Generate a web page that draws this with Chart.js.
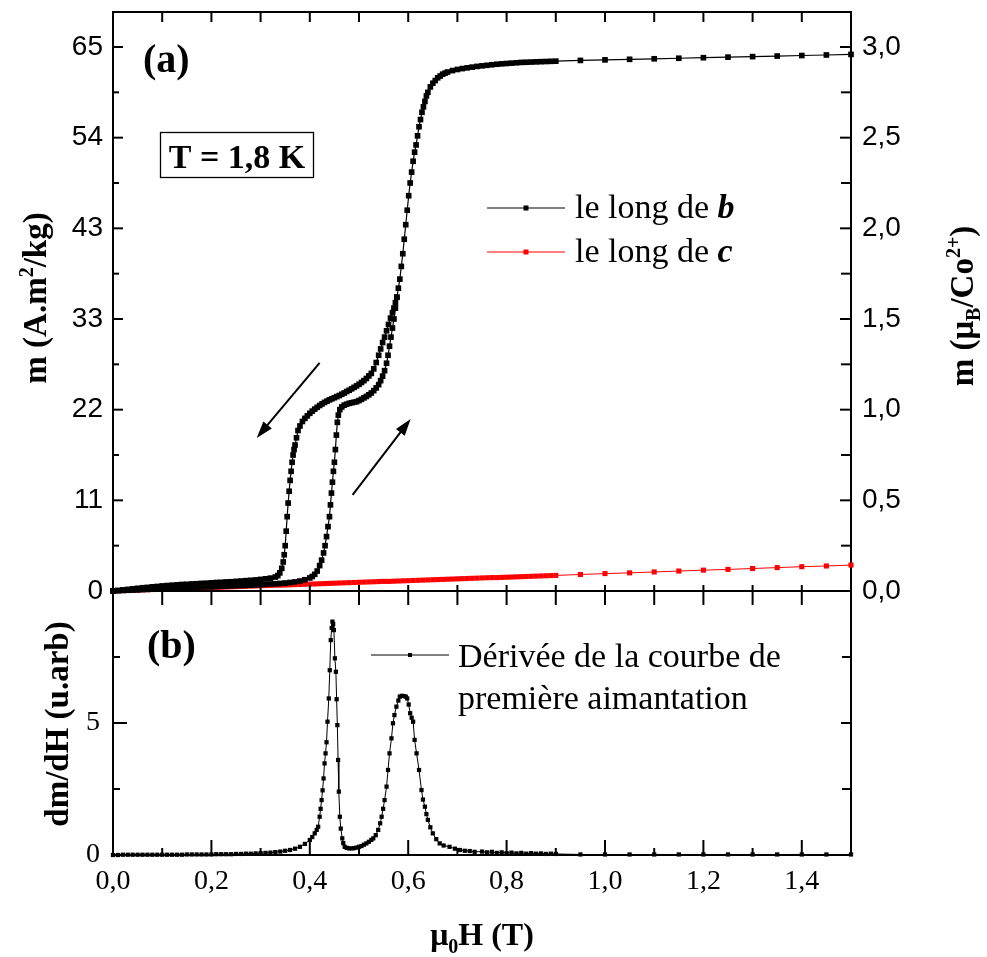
<!DOCTYPE html>
<html><head><meta charset="utf-8">
<script src="https://cdn.jsdelivr.net/npm/chart.js@4/dist/chart.umd.min.js"></script>
<style>
html,body{margin:0;padding:0;background:#fff;}
#wrap{position:relative;width:987px;height:957px;overflow:hidden;background:#fff}
canvas{position:absolute;left:0}
#c1{top:0}
#c2{top:560px}
</style></head><body>
<div id="wrap"><canvas id="c1" width="987" height="620"></canvas><canvas id="c2" width="987" height="397"></canvas></div>
<script>
// ---------------- DATA ----------------
// Field mu0H (T) and magnetisation (muB/Co2+) along b : first magnetisation (increasing field)
const H_B_UP = [0.00,0.01,0.02,0.03,0.04,0.05,0.06,0.07,0.08,0.09,
0.10,0.11,0.12,0.13,0.14,0.15,0.16,0.17,0.18,0.19,
0.20,0.21,0.22,0.23,0.24,0.25,0.26,0.27,0.28,0.29,
0.30,0.31,0.32,0.33,0.34,0.35,0.36,0.37,0.38,0.39,0.40,
0.405,0.41,0.415,0.42,0.424,0.428,0.431,0.434,0.437,0.44,
0.442,0.444,0.446,0.448,0.45,0.452,0.454,0.456,0.458,0.461,
0.465,0.47,0.475,0.48,0.485,0.49,0.495,0.50,0.505,0.51,
0.515,0.52,0.525,0.53,0.535,0.54,0.544,0.548,0.552,0.556,
0.559,0.562,0.565,0.568,0.571,0.574,0.577,0.580,0.583,0.586,
0.589,0.592,0.595,0.598,0.601,0.604,0.607,0.610,0.613,0.616,
0.619,0.622,0.625,0.628,0.631,0.634,0.637,0.64,0.645,0.65,
0.655,0.66,0.665,0.67,0.675,0.68,0.69,0.70,0.71,0.72,
0.73,0.74,0.75,0.76,0.77,0.78,0.79,0.80,0.81,0.82,
0.83,0.84,0.85,0.86,0.87,0.88,0.89,0.90,
0.95,1.00,1.05,1.10,1.15,1.20,1.25,1.30,1.35,1.40,1.45,1.50];
const M_B_UP = [0.000,0.002,0.003,0.004,0.005,0.006,0.008,0.009,0.010,0.011,
0.012,0.013,0.015,0.016,0.017,0.018,0.019,0.020,0.022,0.023,
0.024,0.025,0.026,0.027,0.028,0.029,0.030,0.031,0.032,0.034,
0.036,0.037,0.039,0.040,0.042,0.044,0.047,0.050,0.055,0.062,0.072,
0.080,0.092,0.11,0.14,0.17,0.21,0.25,0.30,0.355,0.41,
0.475,0.54,0.60,0.66,0.71,0.78,0.86,0.93,0.97,1.00,
1.015,1.025,1.03,1.035,1.038,1.041,1.044,1.05,1.057,1.065,
1.073,1.082,1.092,1.105,1.12,1.138,1.16,1.185,1.215,1.256,
1.30,1.35,1.40,1.45,1.50,1.56,1.62,1.67,1.72,1.79,
1.86,1.94,2.02,2.10,2.18,2.25,2.31,2.37,2.42,2.46,
2.51,2.56,2.60,2.64,2.67,2.70,2.73,2.75,2.78,2.80,
2.815,2.83,2.84,2.85,2.856,2.862,2.87,2.876,2.881,2.885,
2.889,2.893,2.896,2.899,2.902,2.905,2.907,2.909,2.911,2.913,
2.915,2.916,2.917,2.918,2.919,2.920,2.921,2.922,
2.926,2.929,2.932,2.935,2.938,2.941,2.944,2.947,2.950,2.953,2.956,2.959];
// along b : decreasing field branch (below the point where it joins the first branch)
const H_B_DOWN = [0.00,0.01,0.02,0.03,0.04,0.05,0.06,0.07,0.08,0.09,
0.10,0.11,0.12,0.13,0.14,0.15,0.16,0.17,0.18,0.19,
0.20,0.21,0.22,0.23,0.24,0.25,0.26,0.27,0.28,0.29,
0.30,0.31,0.32,0.33,
0.335,0.339,0.343,0.346,0.348,0.350,0.352,0.354,0.356,0.358,
0.360,0.362,0.364,0.366,0.368,0.370,0.373,0.376,0.38,0.385,
0.39,0.395,0.40,0.405,0.41,0.415,0.42,0.425,0.43,0.435,
0.44,0.445,0.45,0.455,0.46,0.465,0.47,0.475,0.48,0.485,
0.49,0.495,0.50,0.505,0.51,0.515,0.52,0.525,0.53,0.535,
0.54,0.544,0.548,0.552,0.556,0.56,0.564,0.568,0.571,0.574,0.577];
const M_B_DOWN = [0.000,0.003,0.006,0.009,0.012,0.015,0.018,0.020,0.023,0.025,
0.028,0.030,0.032,0.034,0.036,0.037,0.039,0.040,0.042,0.043,
0.045,0.047,0.048,0.050,0.051,0.053,0.055,0.057,0.059,0.061,
0.064,0.067,0.071,0.077,
0.085,0.10,0.125,0.16,0.20,0.25,0.33,0.41,0.485,0.55,
0.61,0.66,0.71,0.75,0.78,0.805,0.845,0.885,0.91,0.935,
0.952,0.966,0.98,0.992,1.003,1.013,1.023,1.032,1.04,1.047,
1.054,1.06,1.066,1.072,1.078,1.085,1.092,1.10,1.107,1.115,
1.123,1.131,1.14,1.15,1.16,1.172,1.186,1.20,1.225,1.26,
1.30,1.335,1.37,1.40,1.435,1.47,1.505,1.535,1.56,1.59,1.62];
// along c
const H_C = [0.00,0.01,0.02,0.03,0.04,0.05,0.06,0.07,0.08,0.09,
0.10,0.11,0.12,0.13,0.14,0.15,0.16,0.17,0.18,0.19,
0.20,0.21,0.22,0.23,0.24,0.25,0.26,0.27,0.28,0.29,
0.30,0.31,0.32,0.33,0.34,0.35,0.36,0.37,0.38,0.39,
0.40,0.41,0.42,0.43,0.44,0.45,0.46,0.47,0.48,0.49,
0.50,0.51,0.52,0.53,0.54,0.55,0.56,0.57,0.58,0.59,
0.60,0.61,0.62,0.63,0.64,0.65,0.66,0.67,0.68,0.69,
0.70,0.71,0.72,0.73,0.74,0.75,0.76,0.77,0.78,0.79,
0.80,0.81,0.82,0.83,0.84,0.85,0.86,0.87,0.88,0.89,0.90,
0.95,1.00,1.05,1.10,1.15,1.20,1.25,1.30,1.35,1.40,1.45,1.50];
const M_C = [0.000,0.001,0.002,0.003,0.004,0.005,0.006,0.007,0.008,0.009,
0.010,0.011,0.011,0.012,0.013,0.014,0.015,0.016,0.017,0.018,
0.019,0.020,0.021,0.022,0.023,0.024,0.025,0.026,0.027,0.028,
0.029,0.030,0.031,0.032,0.032,0.033,0.034,0.035,0.036,0.037,
0.038,0.039,0.040,0.041,0.042,0.043,0.044,0.045,0.046,0.047,
0.048,0.049,0.050,0.051,0.052,0.053,0.053,0.054,0.055,0.056,
0.057,0.058,0.059,0.060,0.061,0.062,0.063,0.064,0.065,0.066,
0.067,0.068,0.069,0.070,0.071,0.072,0.073,0.074,0.074,0.075,
0.076,0.077,0.078,0.079,0.080,0.081,0.082,0.083,0.084,0.085,0.086,
0.091,0.096,0.100,0.105,0.110,0.115,0.119,0.124,0.129,0.134,0.138,0.143];
// derivative dm/dH of first magnetisation curve (arb. units)
const H_D = [0.00,0.01,0.02,0.03,0.04,0.05,0.06,0.07,0.08,0.09,
0.10,0.11,0.12,0.13,0.14,0.15,0.16,0.17,0.18,0.19,
0.20,0.21,0.22,0.23,0.24,0.25,0.26,0.27,0.28,0.29,
0.30,0.31,0.32,0.33,0.34,0.35,0.36,0.37,0.38,0.39,0.40,
0.405,0.41,0.414,0.417,0.42,0.422,0.424,0.426,0.428,0.430,
0.432,0.434,0.436,0.4386,0.4406,0.4426,0.4445,0.446,0.4475,0.449,
0.451,0.453,0.4545,0.456,0.4575,0.459,0.461,0.463,0.466,0.468,
0.471,0.475,0.48,0.485,0.49,0.495,0.50,0.505,0.51,0.515,
0.52,0.525,0.529,0.534,0.539,0.543,0.546,0.549,0.552,0.556,
0.559,0.562,0.566,0.569,0.572,0.576,0.580,0.583,0.587,0.591,
0.595,0.598,0.601,0.604,0.607,0.61,0.613,0.617,0.622,0.627,
0.630,0.634,0.637,0.64,0.645,0.65,0.657,0.664,0.672,0.684,
0.695,0.705,0.715,0.725,0.735,0.75,0.76,0.77,0.78,0.79,
0.80,0.81,0.82,0.83,0.84,0.85,0.86,0.87,0.88,0.89,0.90,
0.95,1.00,1.05,1.10,1.15,1.20,1.25,1.30,1.35,1.40,1.45,1.50];
const V_D = [0.00,0.00,0.01,0.01,0.01,0.01,0.01,0.01,0.01,0.01,
0.01,0.01,0.01,0.01,0.01,0.02,0.02,0.02,0.02,0.02,
0.02,0.03,0.03,0.03,0.03,0.04,0.04,0.05,0.05,0.06,
0.07,0.08,0.09,0.11,0.13,0.16,0.19,0.24,0.31,0.42,0.57,
0.68,0.82,0.95,1.07,1.45,1.75,2.08,2.45,2.9,3.47,
3.85,4.27,5.05,5.93,7.0,8.14,8.6,8.84,8.75,8.52,
7.45,6.94,5.9,4.92,3.6,2.40,1.45,1.0,0.63,0.45,
0.31,0.27,0.25,0.25,0.26,0.28,0.31,0.34,0.39,0.44,
0.5,0.57,0.63,0.75,0.95,1.2,1.45,1.75,2.08,2.59,
3.22,3.85,4.42,4.99,5.3,5.62,5.85,6.0,6.03,6.02,
6.0,5.93,5.7,5.37,5.2,5.05,4.36,3.85,3.22,2.46,
2.1,1.83,1.55,1.33,1.05,0.82,0.6,0.44,0.36,0.31,
0.24,0.19,0.16,0.15,0.12,0.13,0.1,0.12,0.08,0.1,
0.07,0.09,0.06,0.08,0.05,0.07,0.05,0.06,0.04,0.05,0.04,
0.02,0.02,0.02,0.02,0.02,0.02,0.02,0.02,0.02,0.02,0.02,0.02];

// tick values and labels
const X_TICKS = [0,0.2,0.4,0.6,0.8,1.0,1.2,1.4];
const X_LABELS = ["0,0","0,2","0,4","0,6","0,8","1,0","1,2","1,4"];
const MB_TICKS = [0,0.5,1.0,1.5,2.0,2.5,3.0];
const MB_LABELS = ["0,0","0,5","1,0","1,5","2,0","2,5","3,0"];
const MKG_LABELS = ["0","11","22","33","43","54","65"];
const D_TICKS = [0,5];
const D_LABELS = ["0","5"];
// annotation arrows (data coordinates: [H, m])
const ARROWS = [{from:[0.420,1.258], to:[0.292,0.844]}, {from:[0.487,0.530], to:[0.605,0.949]}];

// ---------------- RENDER ----------------
const SERIF = '"Liberation Serif","Times New Roman",serif';
const SANS = '"Liberation Sans",Arial,sans-serif';
const pts = (hs, vs) => hs.map((h, i) => ({x: h, y: vs[i]}));

function richText(ctx, segs, x, y, align) {
  let w = 0;
  segs.forEach(s => { ctx.font = s.f; s.w = ctx.measureText(s.t).width; w += s.w; });
  let cx = align === 'center' ? x - w / 2 : x;
  segs.forEach(s => { ctx.font = s.f; ctx.fillText(s.t, cx, y + (s.dy || 0)); cx += s.w; });
  return w;
}
function tickLine(ctx, side, a, p, len) {
  ctx.beginPath();
  if (side === 'left') { ctx.moveTo(a.left, p); ctx.lineTo(a.left + len, p); }
  else if (side === 'right') { ctx.moveTo(a.right, p); ctx.lineTo(a.right - len, p); }
  else if (side === 'top') { ctx.moveTo(p, a.top); ctx.lineTo(p, a.top + len); }
  else { ctx.moveTo(p, a.bottom); ctx.lineTo(p, a.bottom - len); }
  ctx.stroke();
}
function arrow(ctx, x1, y1, x2, y2) {
  const ang = Math.atan2(y2 - y1, x2 - x1), hl = 17, hw = 5.5;
  const bx = x2 - hl * Math.cos(ang), by = y2 - hl * Math.sin(ang);
  ctx.beginPath(); ctx.moveTo(x1, y1); ctx.lineTo(bx + 2 * Math.cos(ang), by + 2 * Math.sin(ang)); ctx.stroke();
  ctx.beginPath(); ctx.moveTo(x2, y2);
  ctx.lineTo(bx + hw * Math.sin(ang), by - hw * Math.cos(ang));
  ctx.lineTo(bx - hw * Math.sin(ang), by + hw * Math.cos(ang));
  ctx.closePath(); ctx.fill();
}
const minorsOf = (majors, half, max) => majors.map(v => v + half).filter(v => v < max - 1e-6);
const xMinor = minorsOf(X_TICKS, 0.1, 1.5);
const xAll = X_TICKS.concat(xMinor).filter(v => v > 1e-6);

function fixSize(s, w, h) {
  if (w !== null) s.width = w;
  if (h !== null) s.height = h;
  s.paddingTop = 0; s.paddingBottom = 0; s.paddingLeft = 0; s.paddingRight = 0;
}
function frameAxis(pos, extra) {
  return Object.assign({
    type: 'linear', position: pos,
    grid: {display: false, drawTicks: false},
    border: {display: true, width: 2, color: '#000'},
    ticks: {display: false}
  }, extra || {});
}

const topDecor = {
  id: 'topDecor',
  afterDraw(chart) {
    const ctx = chart.ctx, a = chart.chartArea, xs = chart.scales.x, ys = chart.scales.y;
    ctx.save();
    ctx.strokeStyle = '#000'; ctx.fillStyle = '#000'; ctx.lineWidth = 2;
    xAll.forEach(v => { const p = xs.getPixelForValue(v); tickLine(ctx, 'top', a, p, 10); tickLine(ctx, 'bottom', a, p, 6); });
    MB_TICKS.forEach(v => { const p = ys.getPixelForValue(v); tickLine(ctx, 'left', a, p, 10); tickLine(ctx, 'right', a, p, 11); });
    minorsOf(MB_TICKS, 0.25, ys.max).forEach(v => { const p = ys.getPixelForValue(v); tickLine(ctx, 'left', a, p, 6); tickLine(ctx, 'right', a, p, 10); });
    // arrows
    ctx.lineWidth = 2;
    ARROWS.forEach(ar => arrow(ctx, xs.getPixelForValue(ar.from[0]), ys.getPixelForValue(ar.from[1]), xs.getPixelForValue(ar.to[0]), ys.getPixelForValue(ar.to[1])));
    // panel label
    ctx.textBaseline = 'alphabetic'; ctx.textAlign = 'left';
    ctx.font = 'bold 40px ' + SERIF; ctx.fillText('(a)', 143, 72);
    // temperature box
    ctx.font = 'bold 34px ' + SERIF;
    const tw = ctx.measureText('T = 1,8 K').width;
    ctx.fillText('T = 1,8 K', 237 - tw / 2, 168);
    ctx.lineWidth = 1.3; ctx.strokeRect(160.5, 132.5, 153, 45);
    // legend
    const legend = [{y: 208, c: '#000', it: 'b'}, {y: 252, c: '#ff0000', it: 'c'}];
    legend.forEach(l => {
      ctx.strokeStyle = l.c; ctx.fillStyle = l.c; ctx.lineWidth = 1.2;
      ctx.beginPath(); ctx.moveTo(487, l.y); ctx.lineTo(565, l.y); ctx.stroke();
      ctx.fillRect(523.5, l.y - 2.5, 5, 5);
      ctx.fillStyle = '#000';
      richText(ctx, [{t: 'le long de ', f: '34px ' + SERIF}, {t: l.it, f: 'bold italic 34px ' + SERIF}], 575, l.y + 10, 'left');
    });
    // axis titles
    ctx.fillStyle = '#000';
    ctx.save(); ctx.translate(46, 298); ctx.rotate(-Math.PI / 2);
    richText(ctx, [{t: 'm (A.m', f: 'bold 33px ' + SERIF}, {t: '2', f: 'bold 20px ' + SERIF, dy: -13}, {t: '/kg)', f: 'bold 33px ' + SERIF}], 0, 0, 'center');
    ctx.restore();
    ctx.save(); ctx.translate(973, 306); ctx.rotate(-Math.PI / 2);
    richText(ctx, [{t: 'm (\u03bc', f: 'bold 33px ' + SERIF}, {t: 'B', f: 'bold 20px ' + SERIF, dy: 7}, {t: '/Co', f: 'bold 33px ' + SERIF}, {t: '2+', f: 'bold 20px ' + SERIF, dy: -13}, {t: ')', f: 'bold 33px ' + SERIF}], 0, 0, 'center');
    ctx.restore();
    ctx.restore();
  }
};

const OFF2 = 560;
const botDecor = {
  id: 'botDecor',
  afterDraw(chart) {
    const ctx = chart.ctx, a = chart.chartArea, xs = chart.scales.x, ys = chart.scales.y;
    ctx.save();
    ctx.strokeStyle = '#000'; ctx.fillStyle = '#000'; ctx.lineWidth = 2;
    xAll.forEach(v => tickLine(ctx, 'top', a, xs.getPixelForValue(v), 14));
    X_TICKS.forEach(v => { if (v > 1e-6) tickLine(ctx, 'bottom', a, xs.getPixelForValue(v), 15); });
    xMinor.forEach(v => tickLine(ctx, 'bottom', a, xs.getPixelForValue(v), 7));
    [5].forEach(v => { const p = ys.getPixelForValue(v); tickLine(ctx, 'left', a, p, 14); tickLine(ctx, 'right', a, p, 10); });
    [2.5, 7.5].forEach(v => { const p = ys.getPixelForValue(v); tickLine(ctx, 'left', a, p, 7); tickLine(ctx, 'right', a, p, 9); });
    ctx.textBaseline = 'alphabetic'; ctx.textAlign = 'left';
    ctx.font = 'bold 40px ' + SERIF; ctx.fillText('(b)', 147, 658 - OFF2);
    // legend
    ctx.lineWidth = 1; ctx.beginPath(); ctx.moveTo(371, 655 - OFF2); ctx.lineTo(449, 655 - OFF2); ctx.stroke();
    ctx.fillRect(408, 653 - OFF2, 4, 4);
    ctx.font = '34px ' + SERIF;
    ctx.fillText('D\u00e9riv\u00e9e de la courbe de', 458, 667 - OFF2);
    ctx.fillText('premi\u00e8re aimantation', 458, 709 - OFF2);
    // titles
    ctx.save(); ctx.translate(68, 724 - OFF2); ctx.rotate(-Math.PI / 2);
    richText(ctx, [{t: 'dm/dH (u.arb)', f: 'bold 33px ' + SERIF}], 0, 0, 'center');
    ctx.restore();
    richText(ctx, [{t: '\u03bc', f: 'bold 32px ' + SERIF}, {t: '0', f: 'bold 20px ' + SERIF, dy: 8}, {t: 'H (T)', f: 'bold 32px ' + SERIF}], 482, 945 - OFF2, 'center');
    ctx.restore();
  }
};

Chart.defaults.font.family = SERIF;
Chart.defaults.color = '#000';

new Chart(document.getElementById('c1'), {
  type: 'line',
  data: {datasets: [
    {label: 'le long de b', data: pts(H_B_UP, M_B_UP), borderColor: '#000', borderWidth: 1.2, pointStyle: 'rect', pointRadius: 4, pointBorderWidth: 0, pointBackgroundColor: '#000', clip: 6},
    {label: 'le long de b (descente)', data: pts(H_B_DOWN, M_B_DOWN), borderColor: '#000', borderWidth: 1.2, pointStyle: 'rect', pointRadius: 4, pointBorderWidth: 0, pointBackgroundColor: '#000', clip: 6},
    {label: 'le long de c', data: pts(H_C, M_C), borderColor: '#ff0000', borderWidth: 1, pointStyle: 'rect', pointRadius: 3.6, pointBorderWidth: 0, pointBackgroundColor: '#ff0000', clip: 6}
  ]},
  options: {
    responsive: false, animation: false, events: [],
    layout: {padding: 0},
    plugins: {legend: {display: false}, tooltip: {enabled: false}},
    scales: {
      x: frameAxis('bottom', {min: 0, max: 1.5, afterFit: s => fixSize(s, null, 29)}),
      xTop: frameAxis('top', {min: 0, max: 1.5, afterFit: s => fixSize(s, null, 12)}),
      y: frameAxis('left', {min: 0, max: 3.193,
        afterBuildTicks: s => { s.ticks = MB_TICKS.map(v => ({value: v})); },
        ticks: {display: true, autoSkip: false, padding: 10, font: {family: SANS, size: 28}, color: '#000',
          callback: v => MKG_LABELS[MB_TICKS.indexOf(v)]},
        afterFit: s => fixSize(s, 113, null)}),
      y2: frameAxis('right', {min: 0, max: 3.193,
        afterBuildTicks: s => { s.ticks = MB_TICKS.map(v => ({value: v})); },
        ticks: {display: true, autoSkip: false, padding: 11, font: {family: SANS, size: 28}, color: '#000',
          callback: v => MB_LABELS[MB_TICKS.indexOf(v)]},
        afterFit: s => fixSize(s, 136, null)})
    }
  },
  plugins: [topDecor]
});

new Chart(document.getElementById('c2'), {
  type: 'line',
  data: {datasets: [
    {label: 'D\u00e9riv\u00e9e de la courbe de premi\u00e8re aimantation', data: pts(H_D, V_D), borderColor: '#000', borderWidth: 1, pointStyle: 'rect', pointRadius: 3, pointBorderWidth: 0, pointBackgroundColor: '#000', clip: 5}
  ]},
  options: {
    responsive: false, animation: false, events: [],
    layout: {padding: 0},
    plugins: {legend: {display: false}, tooltip: {enabled: false}},
    scales: {
      x: frameAxis('bottom', {min: 0, max: 1.5,
        afterBuildTicks: s => { s.ticks = X_TICKS.map(v => ({value: v})); },
        ticks: {display: true, autoSkip: false, maxRotation: 0, padding: 10, font: {family: SERIF, size: 28}, color: '#000',
          callback: v => X_LABELS[X_TICKS.indexOf(v)]},
        afterFit: s => fixSize(s, null, 102)}),
      xTop: frameAxis('top', {min: 0, max: 1.5, afterFit: s => fixSize(s, null, 31)}),
      y: frameAxis('left', {min: 0, max: 10,
        afterBuildTicks: s => { s.ticks = D_TICKS.map(v => ({value: v})); },
        ticks: {display: true, autoSkip: false, padding: 13, font: {family: SERIF, size: 28}, color: '#000',
          callback: v => D_LABELS[D_TICKS.indexOf(v)]},
        afterFit: s => fixSize(s, 113, null)}),
      y2: frameAxis('right', {min: 0, max: 10, afterFit: s => fixSize(s, 136, null)})
    }
  },
  plugins: [botDecor]
});
</script>
</body></html>
